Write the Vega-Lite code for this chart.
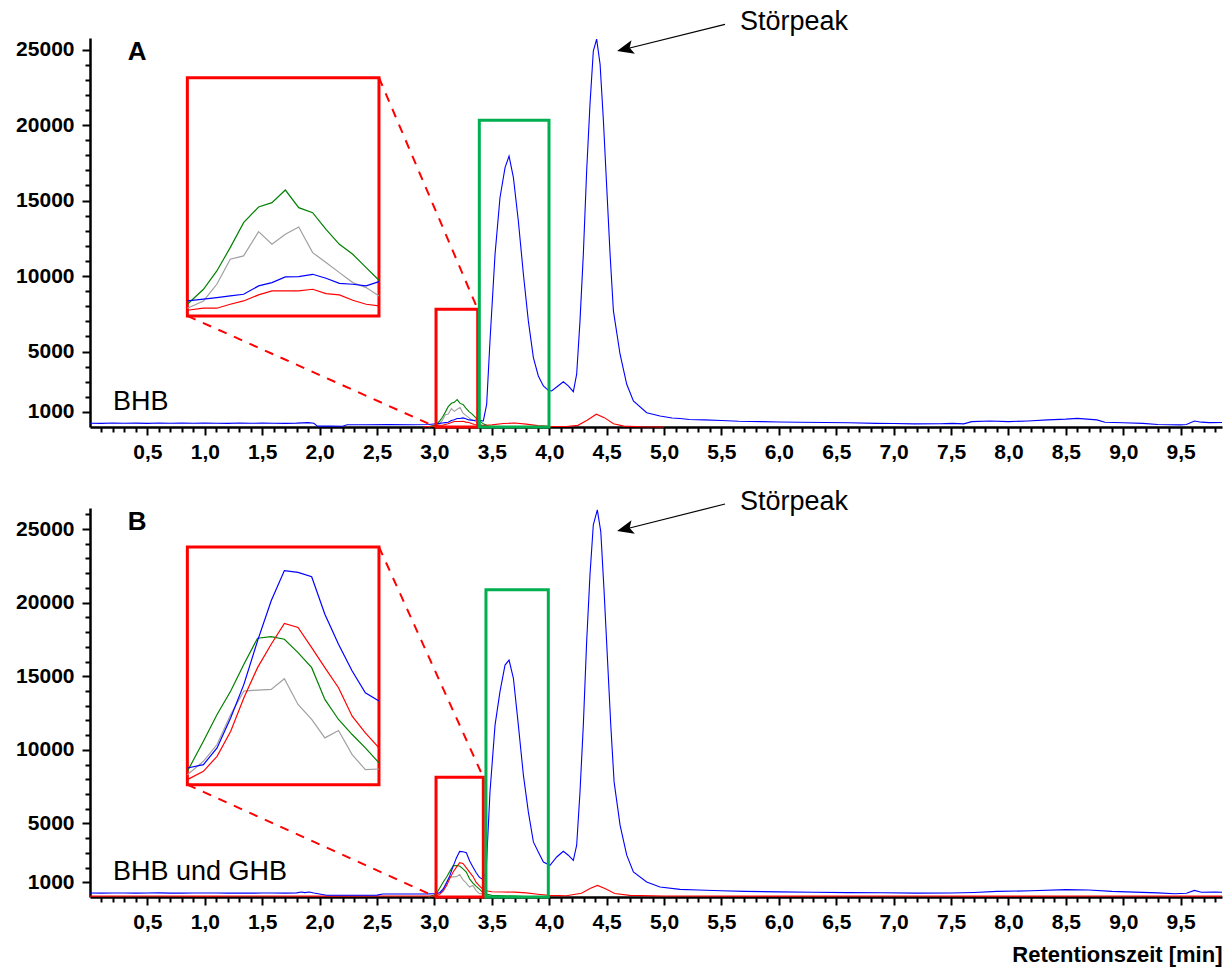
{
  "$schema": "https://vega.github.io/schema/vega-lite/v6.json",
  "padding": {"left": 15, "top": 7, "right": 5, "bottom": 5},
  "background": "white",
  "bounds": "flush",
  "spacing": 81,
  "config": {
    "view": {"stroke": null},
    "axis": {
      "grid": false,
      "domainColor": "black",
      "domainWidth": 2.5,
      "tickColor": "black",
      "tickWidth": 2,
      "labelColor": "black",
      "labelFont": "Liberation Sans",
      "labelFontWeight": "bold",
      "labelFontSize": 21,
      "labelOverlap": false,
      "labelFlush": false,
      "titleColor": "black"
    }
  },
  "datasets": {
    "a": [
      {"signal": "gray", "time": 2.95, "intensity": 0},
      {"signal": "gray", "time": 3.015, "intensity": 111},
      {"signal": "gray", "time": 3.045, "intensity": 216},
      {"signal": "gray", "time": 3.07, "intensity": 457},
      {"signal": "gray", "time": 3.095, "intensity": 818},
      {"signal": "gray", "time": 3.12, "intensity": 866},
      {"signal": "gray", "time": 3.148, "intensity": 1217},
      {"signal": "gray", "time": 3.173, "intensity": 1034},
      {"signal": "gray", "time": 3.198, "intensity": 1178},
      {"signal": "gray", "time": 3.223, "intensity": 1284},
      {"signal": "gray", "time": 3.249, "intensity": 914},
      {"signal": "gray", "time": 3.274, "intensity": 770},
      {"signal": "gray", "time": 3.299, "intensity": 625},
      {"signal": "gray", "time": 3.324, "intensity": 481},
      {"signal": "gray", "time": 3.349, "intensity": 409},
      {"signal": "gray", "time": 3.373, "intensity": 289},
      {"signal": "gray", "time": 3.4, "intensity": 190},
      {"signal": "gray", "time": 3.43, "intensity": 90},
      {"signal": "gray", "time": 3.47, "intensity": 30},
      {"signal": "gray", "time": 3.52, "intensity": 0},
      {"signal": "green", "time": 2.95, "intensity": 0},
      {"signal": "green", "time": 3.015, "intensity": 168},
      {"signal": "green", "time": 3.045, "intensity": 385},
      {"signal": "green", "time": 3.07, "intensity": 649},
      {"signal": "green", "time": 3.095, "intensity": 986},
      {"signal": "green", "time": 3.12, "intensity": 1347},
      {"signal": "green", "time": 3.148, "intensity": 1573},
      {"signal": "green", "time": 3.173, "intensity": 1635},
      {"signal": "green", "time": 3.198, "intensity": 1818},
      {"signal": "green", "time": 3.223, "intensity": 1563},
      {"signal": "green", "time": 3.249, "intensity": 1491},
      {"signal": "green", "time": 3.274, "intensity": 1251},
      {"signal": "green", "time": 3.299, "intensity": 1034},
      {"signal": "green", "time": 3.324, "intensity": 890},
      {"signal": "green", "time": 3.349, "intensity": 697},
      {"signal": "green", "time": 3.373, "intensity": 515},
      {"signal": "green", "time": 3.4, "intensity": 360},
      {"signal": "green", "time": 3.43, "intensity": 190},
      {"signal": "green", "time": 3.47, "intensity": 70},
      {"signal": "green", "time": 3.52, "intensity": 0},
      {"signal": "red", "time": 2.9, "intensity": 0},
      {"signal": "red", "time": 3.015, "intensity": 82},
      {"signal": "red", "time": 3.045, "intensity": 111},
      {"signal": "red", "time": 3.07, "intensity": 111},
      {"signal": "red", "time": 3.095, "intensity": 168},
      {"signal": "red", "time": 3.12, "intensity": 216},
      {"signal": "red", "time": 3.148, "intensity": 303},
      {"signal": "red", "time": 3.173, "intensity": 361},
      {"signal": "red", "time": 3.198, "intensity": 361},
      {"signal": "red", "time": 3.223, "intensity": 361},
      {"signal": "red", "time": 3.249, "intensity": 385},
      {"signal": "red", "time": 3.274, "intensity": 322},
      {"signal": "red", "time": 3.299, "intensity": 303},
      {"signal": "red", "time": 3.324, "intensity": 226},
      {"signal": "red", "time": 3.349, "intensity": 168},
      {"signal": "red", "time": 3.373, "intensity": 144},
      {"signal": "red", "time": 3.42, "intensity": 90},
      {"signal": "red", "time": 3.5, "intensity": 140},
      {"signal": "red", "time": 3.6, "intensity": 230},
      {"signal": "red", "time": 3.7, "intensity": 260},
      {"signal": "red", "time": 3.8, "intensity": 190},
      {"signal": "red", "time": 3.9, "intensity": 90},
      {"signal": "red", "time": 4.0, "intensity": 40},
      {"signal": "red", "time": 4.15, "intensity": 30},
      {"signal": "red", "time": 4.25, "intensity": 110},
      {"signal": "red", "time": 4.33, "intensity": 450},
      {"signal": "red", "time": 4.41, "intensity": 850},
      {"signal": "red", "time": 4.48, "intensity": 620},
      {"signal": "red", "time": 4.56, "intensity": 220},
      {"signal": "red", "time": 4.65, "intensity": 60},
      {"signal": "red", "time": 4.8, "intensity": 15},
      {"signal": "red", "time": 5.0, "intensity": 0},
      {"signal": "blue", "time": 0, "intensity": 250},
      {"signal": "blue", "time": 0.1, "intensity": 240},
      {"signal": "blue", "time": 0.2, "intensity": 265},
      {"signal": "blue", "time": 0.3, "intensity": 250},
      {"signal": "blue", "time": 0.4, "intensity": 255},
      {"signal": "blue", "time": 0.5, "intensity": 240},
      {"signal": "blue", "time": 0.6, "intensity": 265},
      {"signal": "blue", "time": 0.7, "intensity": 250},
      {"signal": "blue", "time": 0.8, "intensity": 260},
      {"signal": "blue", "time": 0.9, "intensity": 245},
      {"signal": "blue", "time": 1.0, "intensity": 265},
      {"signal": "blue", "time": 1.1, "intensity": 250},
      {"signal": "blue", "time": 1.2, "intensity": 240},
      {"signal": "blue", "time": 1.3, "intensity": 260},
      {"signal": "blue", "time": 1.4, "intensity": 250},
      {"signal": "blue", "time": 1.5, "intensity": 255},
      {"signal": "blue", "time": 1.6, "intensity": 245},
      {"signal": "blue", "time": 1.7, "intensity": 240},
      {"signal": "blue", "time": 1.8, "intensity": 255},
      {"signal": "blue", "time": 1.9, "intensity": 290},
      {"signal": "blue", "time": 1.95, "intensity": 250},
      {"signal": "blue", "time": 1.98, "intensity": 60},
      {"signal": "blue", "time": 2.1, "intensity": 60},
      {"signal": "blue", "time": 2.2, "intensity": 50},
      {"signal": "blue", "time": 2.24, "intensity": 150},
      {"signal": "blue", "time": 2.4, "intensity": 150},
      {"signal": "blue", "time": 2.6, "intensity": 160},
      {"signal": "blue", "time": 2.8, "intensity": 150},
      {"signal": "blue", "time": 2.95, "intensity": 170},
      {"signal": "blue", "time": 3.015, "intensity": 216},
      {"signal": "blue", "time": 3.045, "intensity": 241},
      {"signal": "blue", "time": 3.07, "intensity": 265},
      {"signal": "blue", "time": 3.095, "intensity": 289},
      {"signal": "blue", "time": 3.12, "intensity": 313},
      {"signal": "blue", "time": 3.148, "intensity": 433},
      {"signal": "blue", "time": 3.173, "intensity": 481},
      {"signal": "blue", "time": 3.198, "intensity": 563},
      {"signal": "blue", "time": 3.223, "intensity": 568},
      {"signal": "blue", "time": 3.249, "intensity": 601},
      {"signal": "blue", "time": 3.274, "intensity": 544},
      {"signal": "blue", "time": 3.299, "intensity": 471},
      {"signal": "blue", "time": 3.324, "intensity": 457},
      {"signal": "blue", "time": 3.349, "intensity": 433},
      {"signal": "blue", "time": 3.373, "intensity": 495},
      {"signal": "blue", "time": 3.4, "intensity": 420},
      {"signal": "blue", "time": 3.426, "intensity": 400},
      {"signal": "blue", "time": 3.455, "intensity": 1500},
      {"signal": "blue", "time": 3.484, "intensity": 5700},
      {"signal": "blue", "time": 3.528, "intensity": 11440},
      {"signal": "blue", "time": 3.571, "intensity": 15190},
      {"signal": "blue", "time": 3.615, "intensity": 17180},
      {"signal": "blue", "time": 3.65, "intensity": 17950},
      {"signal": "blue", "time": 3.688, "intensity": 16520},
      {"signal": "blue", "time": 3.731, "intensity": 13650},
      {"signal": "blue", "time": 3.775, "intensity": 10120},
      {"signal": "blue", "time": 3.818, "intensity": 7030},
      {"signal": "blue", "time": 3.862, "intensity": 4600},
      {"signal": "blue", "time": 3.905, "intensity": 3380},
      {"signal": "blue", "time": 3.949, "intensity": 2720},
      {"signal": "blue", "time": 3.992, "intensity": 2430},
      {"signal": "blue", "time": 4.021, "intensity": 2390},
      {"signal": "blue", "time": 4.065, "intensity": 2650},
      {"signal": "blue", "time": 4.123, "intensity": 3000},
      {"signal": "blue", "time": 4.166, "intensity": 2720},
      {"signal": "blue", "time": 4.21, "intensity": 2340},
      {"signal": "blue", "time": 4.239, "intensity": 3500},
      {"signal": "blue", "time": 4.268, "intensity": 7030},
      {"signal": "blue", "time": 4.297, "intensity": 11440},
      {"signal": "blue", "time": 4.326, "intensity": 16960},
      {"signal": "blue", "time": 4.355, "intensity": 21380},
      {"signal": "blue", "time": 4.384, "intensity": 24910},
      {"signal": "blue", "time": 4.413, "intensity": 25700},
      {"signal": "blue", "time": 4.443, "intensity": 24030},
      {"signal": "blue", "time": 4.472, "intensity": 20270},
      {"signal": "blue", "time": 4.501, "intensity": 15850},
      {"signal": "blue", "time": 4.53, "intensity": 11440},
      {"signal": "blue", "time": 4.559, "intensity": 7690},
      {"signal": "blue", "time": 4.617, "intensity": 4820},
      {"signal": "blue", "time": 4.675, "intensity": 2830},
      {"signal": "blue", "time": 4.733, "intensity": 1720},
      {"signal": "blue", "time": 4.849, "intensity": 950},
      {"signal": "blue", "time": 4.965, "intensity": 730},
      {"signal": "blue", "time": 5.07, "intensity": 600},
      {"signal": "blue", "time": 5.14, "intensity": 560},
      {"signal": "blue", "time": 5.22, "intensity": 500},
      {"signal": "blue", "time": 5.35, "intensity": 470},
      {"signal": "blue", "time": 5.5, "intensity": 430},
      {"signal": "blue", "time": 5.65, "intensity": 380},
      {"signal": "blue", "time": 5.85, "intensity": 355},
      {"signal": "blue", "time": 6.0, "intensity": 330},
      {"signal": "blue", "time": 6.18, "intensity": 310},
      {"signal": "blue", "time": 6.4, "intensity": 300},
      {"signal": "blue", "time": 6.61, "intensity": 285},
      {"signal": "blue", "time": 6.85, "intensity": 240},
      {"signal": "blue", "time": 7.0, "intensity": 230},
      {"signal": "blue", "time": 7.18, "intensity": 210},
      {"signal": "blue", "time": 7.4, "intensity": 220},
      {"signal": "blue", "time": 7.51, "intensity": 240},
      {"signal": "blue", "time": 7.61, "intensity": 210},
      {"signal": "blue", "time": 7.68, "intensity": 355},
      {"signal": "blue", "time": 7.84, "intensity": 400},
      {"signal": "blue", "time": 8.0, "intensity": 355},
      {"signal": "blue", "time": 8.17, "intensity": 400},
      {"signal": "blue", "time": 8.34, "intensity": 470},
      {"signal": "blue", "time": 8.5, "intensity": 520},
      {"signal": "blue", "time": 8.6, "intensity": 570},
      {"signal": "blue", "time": 8.77, "intensity": 470},
      {"signal": "blue", "time": 8.84, "intensity": 310},
      {"signal": "blue", "time": 9.0, "intensity": 285},
      {"signal": "blue", "time": 9.17, "intensity": 240},
      {"signal": "blue", "time": 9.3, "intensity": 165},
      {"signal": "blue", "time": 9.5, "intensity": 140},
      {"signal": "blue", "time": 9.55, "intensity": 170},
      {"signal": "blue", "time": 9.62, "intensity": 400},
      {"signal": "blue", "time": 9.68, "intensity": 320},
      {"signal": "blue", "time": 9.75, "intensity": 290},
      {"signal": "blue", "time": 9.86, "intensity": 300}
    ],
    "b": [
      {"signal": "gray", "time": 2.95, "intensity": 0},
      {"signal": "gray", "time": 3.014, "intensity": 145},
      {"signal": "gray", "time": 3.048, "intensity": 339},
      {"signal": "gray", "time": 3.077, "intensity": 581},
      {"signal": "gray", "time": 3.106, "intensity": 1016},
      {"signal": "gray", "time": 3.134, "intensity": 1355},
      {"signal": "gray", "time": 3.163, "intensity": 1370},
      {"signal": "gray", "time": 3.192, "intensity": 1379},
      {"signal": "gray", "time": 3.22, "intensity": 1534},
      {"signal": "gray", "time": 3.249, "intensity": 1162},
      {"signal": "gray", "time": 3.278, "intensity": 944},
      {"signal": "gray", "time": 3.306, "intensity": 678},
      {"signal": "gray", "time": 3.335, "intensity": 784},
      {"signal": "gray", "time": 3.364, "intensity": 436},
      {"signal": "gray", "time": 3.392, "intensity": 218},
      {"signal": "gray", "time": 3.421, "intensity": 227},
      {"signal": "gray", "time": 3.45, "intensity": 140},
      {"signal": "gray", "time": 3.48, "intensity": 50},
      {"signal": "gray", "time": 3.52, "intensity": 0},
      {"signal": "green", "time": 2.95, "intensity": 0},
      {"signal": "green", "time": 3.014, "intensity": 194},
      {"signal": "green", "time": 3.048, "intensity": 629},
      {"signal": "green", "time": 3.077, "intensity": 1016},
      {"signal": "green", "time": 3.106, "intensity": 1355},
      {"signal": "green", "time": 3.134, "intensity": 1742},
      {"signal": "green", "time": 3.163, "intensity": 2120},
      {"signal": "green", "time": 3.192, "intensity": 2144},
      {"signal": "green", "time": 3.22, "intensity": 2105},
      {"signal": "green", "time": 3.249, "intensity": 1912},
      {"signal": "green", "time": 3.278, "intensity": 1694},
      {"signal": "green", "time": 3.306, "intensity": 1234},
      {"signal": "green", "time": 3.335, "intensity": 944},
      {"signal": "green", "time": 3.364, "intensity": 726},
      {"signal": "green", "time": 3.392, "intensity": 532},
      {"signal": "green", "time": 3.421, "intensity": 315},
      {"signal": "green", "time": 3.45, "intensity": 200},
      {"signal": "green", "time": 3.5, "intensity": 110},
      {"signal": "green", "time": 3.6, "intensity": 90},
      {"signal": "green", "time": 3.7, "intensity": 60},
      {"signal": "green", "time": 3.8, "intensity": 30},
      {"signal": "green", "time": 3.95, "intensity": 0},
      {"signal": "red", "time": 0, "intensity": 60},
      {"signal": "red", "time": 0.5, "intensity": 70},
      {"signal": "red", "time": 1.0, "intensity": 60},
      {"signal": "red", "time": 1.5, "intensity": 70},
      {"signal": "red", "time": 2.0, "intensity": 60},
      {"signal": "red", "time": 2.5, "intensity": 70},
      {"signal": "red", "time": 2.95, "intensity": 70},
      {"signal": "red", "time": 3.014, "intensity": 73},
      {"signal": "red", "time": 3.048, "intensity": 194},
      {"signal": "red", "time": 3.077, "intensity": 411},
      {"signal": "red", "time": 3.106, "intensity": 774},
      {"signal": "red", "time": 3.134, "intensity": 1258},
      {"signal": "red", "time": 3.163, "intensity": 1694},
      {"signal": "red", "time": 3.192, "intensity": 2033},
      {"signal": "red", "time": 3.22, "intensity": 2333},
      {"signal": "red", "time": 3.249, "intensity": 2275},
      {"signal": "red", "time": 3.278, "intensity": 1984},
      {"signal": "red", "time": 3.306, "intensity": 1694},
      {"signal": "red", "time": 3.335, "intensity": 1404},
      {"signal": "red", "time": 3.364, "intensity": 992},
      {"signal": "red", "time": 3.392, "intensity": 750},
      {"signal": "red", "time": 3.421, "intensity": 532},
      {"signal": "red", "time": 3.45, "intensity": 430},
      {"signal": "red", "time": 3.5, "intensity": 360},
      {"signal": "red", "time": 3.6, "intensity": 340},
      {"signal": "red", "time": 3.7, "intensity": 330},
      {"signal": "red", "time": 3.8, "intensity": 280},
      {"signal": "red", "time": 3.9, "intensity": 190},
      {"signal": "red", "time": 4.0, "intensity": 110},
      {"signal": "red", "time": 4.15, "intensity": 90},
      {"signal": "red", "time": 4.28, "intensity": 250},
      {"signal": "red", "time": 4.36, "intensity": 600},
      {"signal": "red", "time": 4.42, "intensity": 790},
      {"signal": "red", "time": 4.49, "intensity": 560},
      {"signal": "red", "time": 4.57, "intensity": 240},
      {"signal": "red", "time": 4.7, "intensity": 110},
      {"signal": "red", "time": 5.0, "intensity": 70},
      {"signal": "red", "time": 6.0, "intensity": 60},
      {"signal": "red", "time": 7.0, "intensity": 70},
      {"signal": "red", "time": 8.0, "intensity": 60},
      {"signal": "red", "time": 9.0, "intensity": 70},
      {"signal": "red", "time": 9.86, "intensity": 60},
      {"signal": "blue", "time": 0, "intensity": 270},
      {"signal": "blue", "time": 0.1, "intensity": 260},
      {"signal": "blue", "time": 0.2, "intensity": 275},
      {"signal": "blue", "time": 0.3, "intensity": 270},
      {"signal": "blue", "time": 0.4, "intensity": 260},
      {"signal": "blue", "time": 0.5, "intensity": 270},
      {"signal": "blue", "time": 0.6, "intensity": 280},
      {"signal": "blue", "time": 0.7, "intensity": 265},
      {"signal": "blue", "time": 0.8, "intensity": 260},
      {"signal": "blue", "time": 0.9, "intensity": 270},
      {"signal": "blue", "time": 1.0, "intensity": 270},
      {"signal": "blue", "time": 1.1, "intensity": 275},
      {"signal": "blue", "time": 1.2, "intensity": 260},
      {"signal": "blue", "time": 1.3, "intensity": 270},
      {"signal": "blue", "time": 1.4, "intensity": 260},
      {"signal": "blue", "time": 1.5, "intensity": 270},
      {"signal": "blue", "time": 1.6, "intensity": 270},
      {"signal": "blue", "time": 1.7, "intensity": 260},
      {"signal": "blue", "time": 1.8, "intensity": 280},
      {"signal": "blue", "time": 1.84, "intensity": 340},
      {"signal": "blue", "time": 1.87, "intensity": 300},
      {"signal": "blue", "time": 1.91, "intensity": 340},
      {"signal": "blue", "time": 1.95, "intensity": 270},
      {"signal": "blue", "time": 2.0, "intensity": 200},
      {"signal": "blue", "time": 2.06, "intensity": 120},
      {"signal": "blue", "time": 2.3, "intensity": 120},
      {"signal": "blue", "time": 2.5, "intensity": 130},
      {"signal": "blue", "time": 2.55, "intensity": 200},
      {"signal": "blue", "time": 2.8, "intensity": 200},
      {"signal": "blue", "time": 2.95, "intensity": 215},
      {"signal": "blue", "time": 3.014, "intensity": 242},
      {"signal": "blue", "time": 3.048, "intensity": 290},
      {"signal": "blue", "time": 3.077, "intensity": 532},
      {"signal": "blue", "time": 3.106, "intensity": 968},
      {"signal": "blue", "time": 3.134, "intensity": 1452},
      {"signal": "blue", "time": 3.163, "intensity": 2081},
      {"signal": "blue", "time": 3.192, "intensity": 2662},
      {"signal": "blue", "time": 3.22, "intensity": 3098},
      {"signal": "blue", "time": 3.249, "intensity": 3073},
      {"signal": "blue", "time": 3.278, "intensity": 3010},
      {"signal": "blue", "time": 3.306, "intensity": 2468},
      {"signal": "blue", "time": 3.335, "intensity": 2033},
      {"signal": "blue", "time": 3.364, "intensity": 1646},
      {"signal": "blue", "time": 3.392, "intensity": 1331},
      {"signal": "blue", "time": 3.421, "intensity": 1210},
      {"signal": "blue", "time": 3.45, "intensity": 1700},
      {"signal": "blue", "time": 3.484, "intensity": 7140},
      {"signal": "blue", "time": 3.528, "intensity": 11680},
      {"signal": "blue", "time": 3.571, "intensity": 13950},
      {"signal": "blue", "time": 3.615, "intensity": 15760},
      {"signal": "blue", "time": 3.65, "intensity": 16100},
      {"signal": "blue", "time": 3.688, "intensity": 14860},
      {"signal": "blue", "time": 3.731, "intensity": 11680},
      {"signal": "blue", "time": 3.775, "intensity": 8280},
      {"signal": "blue", "time": 3.818, "intensity": 5780},
      {"signal": "blue", "time": 3.862, "intensity": 3740},
      {"signal": "blue", "time": 3.905, "intensity": 3060},
      {"signal": "blue", "time": 3.949, "intensity": 2380},
      {"signal": "blue", "time": 4.007, "intensity": 2150},
      {"signal": "blue", "time": 4.065, "intensity": 2720},
      {"signal": "blue", "time": 4.123, "intensity": 3110},
      {"signal": "blue", "time": 4.166, "intensity": 2840},
      {"signal": "blue", "time": 4.21, "intensity": 2490},
      {"signal": "blue", "time": 4.239, "intensity": 3520},
      {"signal": "blue", "time": 4.268, "intensity": 7140},
      {"signal": "blue", "time": 4.297, "intensity": 11680},
      {"signal": "blue", "time": 4.326, "intensity": 17350},
      {"signal": "blue", "time": 4.355, "intensity": 21890},
      {"signal": "blue", "time": 4.384, "intensity": 25290},
      {"signal": "blue", "time": 4.419, "intensity": 26300},
      {"signal": "blue", "time": 4.449, "intensity": 24830},
      {"signal": "blue", "time": 4.478, "intensity": 20750},
      {"signal": "blue", "time": 4.507, "intensity": 16220},
      {"signal": "blue", "time": 4.536, "intensity": 11680},
      {"signal": "blue", "time": 4.565, "intensity": 7820},
      {"signal": "blue", "time": 4.617, "intensity": 4880},
      {"signal": "blue", "time": 4.675, "intensity": 2840},
      {"signal": "blue", "time": 4.733, "intensity": 1700},
      {"signal": "blue", "time": 4.849, "intensity": 1020},
      {"signal": "blue", "time": 4.965, "intensity": 680},
      {"signal": "blue", "time": 5.139, "intensity": 520},
      {"signal": "blue", "time": 5.3, "intensity": 480},
      {"signal": "blue", "time": 5.5, "intensity": 420},
      {"signal": "blue", "time": 5.7, "intensity": 380},
      {"signal": "blue", "time": 6.0, "intensity": 350},
      {"signal": "blue", "time": 6.3, "intensity": 320},
      {"signal": "blue", "time": 6.6, "intensity": 300},
      {"signal": "blue", "time": 6.9, "intensity": 290},
      {"signal": "blue", "time": 7.2, "intensity": 260},
      {"signal": "blue", "time": 7.5, "intensity": 270},
      {"signal": "blue", "time": 7.7, "intensity": 310},
      {"signal": "blue", "time": 7.9, "intensity": 380},
      {"signal": "blue", "time": 8.2, "intensity": 420},
      {"signal": "blue", "time": 8.5, "intensity": 500},
      {"signal": "blue", "time": 8.7, "intensity": 480},
      {"signal": "blue", "time": 8.9, "intensity": 380},
      {"signal": "blue", "time": 9.1, "intensity": 330},
      {"signal": "blue", "time": 9.3, "intensity": 280},
      {"signal": "blue", "time": 9.45, "intensity": 220},
      {"signal": "blue", "time": 9.55, "intensity": 250},
      {"signal": "blue", "time": 9.62, "intensity": 450},
      {"signal": "blue", "time": 9.68, "intensity": 320},
      {"signal": "blue", "time": 9.8, "intensity": 330},
      {"signal": "blue", "time": 9.86, "intensity": 320}
    ]
  },
  "vconcat": [
    {
      "width": 1132,
      "height": 389,
      "layer": [
        {
          "encoding": {
            "x": {
              "field": "time", "type": "quantitative",
              "scale": {"domain": [0, 9.86], "nice": false, "zero": false},
              "axis": {
                "title": null,
                "values": [0.1,0.2,0.3,0.4,0.5,0.6,0.7,0.8,0.9,1,1.1,1.2,1.3,1.4,1.5,1.6,1.7,1.8,1.9,2,2.1,2.2,2.3,2.4,2.5,2.6,2.7,2.8,2.9,3,3.1,3.2,3.3,3.4,3.5,3.6,3.7,3.8,3.9,4,4.1,4.2,4.3,4.4,4.5,4.6,4.7,4.8,4.9,5,5.1,5.2,5.3,5.4,5.5,5.6,5.7,5.8,5.9,6,6.1,6.2,6.3,6.4,6.5,6.6,6.7,6.8,6.9,7,7.1,7.2,7.3,7.4,7.5,7.6,7.7,7.8,7.9,8,8.1,8.2,8.3,8.4,8.5,8.6,8.7,8.8,8.9,9,9.1,9.2,9.3,9.4,9.5,9.6,9.7,9.8],
                "labelExpr": "abs(datum.value * 2 - round(datum.value * 2)) < 0.001 ? replace(format(datum.value, '.1f'), '.', ',') : ''",
                "tickSize": {"condition": {"test": "abs(datum.value * 2 - round(datum.value * 2)) < 0.001", "value": 8}, "value": 5},
                "labelPadding": 6
              }
            },
            "y": {
              "field": "intensity", "type": "quantitative",
              "scale": {"domain": [0, 25770], "nice": false},
              "axis": {
                "title": null,
                "format": "d",
                "values": [1000,2000,3000,4000,5000,6000,7000,8000,9000,10000,11000,12000,13000,14000,15000,16000,17000,18000,19000,20000,21000,22000,23000,24000,25000],
                "labelExpr": "(datum.value === 1000 || datum.value % 5000 === 0) ? datum.label : ''",
                "tickSize": {"condition": {"test": "datum.value === 1000 || datum.value % 5000 === 0", "value": 8}, "value": 5},
                "labelPadding": 8
              }
            }
          },
          "layer": [
            {
              "data": {"name": "a"},
              "mark": {"type": "line", "strokeWidth": 1.1},
              "encoding": {
                "color": {"field": "signal", "type": "nominal", "scale": {"domain": ["gray", "green", "red", "blue"], "range": ["#a0a0a0", "#008000", "#ff0000", "#0000ff"]}, "legend": null}
              }
            },
            {
              "data": {"values": [
                {"box": "zoom", "time": 3.014, "time_end": 3.377, "intensity": 0, "intensity_end": 7800},
                {"box": "peak", "time": 3.391, "time_end": 3.998, "intensity": 0, "intensity_end": 20320},
                {"box": "inset", "time": 0.848, "time_end": 2.517, "intensity": 7360, "intensity_end": 23140}
              ]},
              "mark": {"type": "rect", "filled": false, "strokeWidth": 3},
              "encoding": {
                "x2": {"field": "time_end"},
                "y2": {"field": "intensity_end"},
                "stroke": {"field": "box", "type": "nominal", "scale": {"domain": ["zoom", "peak", "inset"], "range": ["#ff0000", "#00b050", "#ff0000"]}, "legend": null}
              }
            },
            {
              "data": {"values": [
                {"time": 2.517, "intensity": 23140, "time_end": 3.377, "intensity_end": 7800},
                {"time": 0.848, "intensity": 7360, "time_end": 3.014, "intensity_end": 0}
              ]},
              "mark": {"type": "rule", "color": "#ff0000", "strokeWidth": 2, "strokeDash": [9, 8]},
              "encoding": {"x2": {"field": "time_end"}, "y2": {"field": "intensity_end"}}
            },
            {
              "data": {"values": [{"label": "A", "time": 0.41, "intensity": 24840}]},
              "mark": {"type": "text", "font": "Liberation Sans", "fontWeight": "bold", "fontSize": 26, "align": "center", "baseline": "middle", "color": "black"},
              "encoding": {"text": {"field": "label"}}
            },
            {
              "data": {"values": [{"label": "BHB", "time": 0.2, "intensity": 1660}]},
              "mark": {"type": "text", "font": "Liberation Sans", "fontSize": 27, "align": "left", "baseline": "middle", "color": "black"},
              "encoding": {"text": {"field": "label"}}
            },
            {
              "data": {"values": [{"label": "Störpeak", "time": 5.662, "intensity": 26830}]},
              "mark": {"type": "text", "font": "Liberation Sans", "fontSize": 27, "align": "left", "baseline": "middle", "color": "black"},
              "encoding": {"text": {"field": "label"}}
            },
            {
              "data": {"values": [{"time": 5.531, "intensity": 26670, "time_end": 4.64, "intensity_end": 24990}]},
              "mark": {"type": "rule", "color": "black", "strokeWidth": 1.2},
              "encoding": {"x2": {"field": "time_end"}, "y2": {"field": "intensity_end"}}
            },
            {
              "data": {"values": [{"time": 4.591, "intensity": 24910}]},
              "mark": {"type": "point", "shape": "M0,0L1,-0.42L0.78,0L1,0.42Z", "size": 1100, "filled": true, "color": "black", "opacity": 1, "strokeWidth": 0, "angle": 346}
            }
          ]
        },
        {
          "data": {"name": "a"},
          "transform": [{"filter": {"field": "time", "range": [3.01, 3.38]}}],
          "mark": {"type": "line", "strokeWidth": 1.2},
          "encoding": {
            "x": {"field": "time", "type": "quantitative", "scale": {"domain": [3.015, 3.373], "range": [97.4, 289.0], "nice": false, "zero": false}, "axis": null},
            "y": {"field": "intensity", "type": "quantitative", "scale": {"domain": [0, 3440], "range": [277.9, 39.7], "nice": false}, "axis": null},
            "color": {"field": "signal", "type": "nominal", "scale": {"domain": ["gray", "green", "red", "blue"], "range": ["#a0a0a0", "#008000", "#ff0000", "#0000ff"]}, "legend": null}
          }
        }
      ],
      "resolve": {"scale": {"x": "independent", "y": "independent"}}
    },
    {
      "width": 1132,
      "height": 389,
      "layer": [
        {
          "encoding": {
            "x": {
              "field": "time", "type": "quantitative",
              "scale": {"domain": [0, 9.86], "nice": false, "zero": false},
              "axis": {
                "title": "Retentionszeit [min]",
                "titleFont": "Liberation Sans",
                "titleFontWeight": "bold",
                "titleFontSize": 22,
                "titleAnchor": "end",
                "titlePadding": 12,
                "values": [0.1,0.2,0.3,0.4,0.5,0.6,0.7,0.8,0.9,1,1.1,1.2,1.3,1.4,1.5,1.6,1.7,1.8,1.9,2,2.1,2.2,2.3,2.4,2.5,2.6,2.7,2.8,2.9,3,3.1,3.2,3.3,3.4,3.5,3.6,3.7,3.8,3.9,4,4.1,4.2,4.3,4.4,4.5,4.6,4.7,4.8,4.9,5,5.1,5.2,5.3,5.4,5.5,5.6,5.7,5.8,5.9,6,6.1,6.2,6.3,6.4,6.5,6.6,6.7,6.8,6.9,7,7.1,7.2,7.3,7.4,7.5,7.6,7.7,7.8,7.9,8,8.1,8.2,8.3,8.4,8.5,8.6,8.7,8.8,8.9,9,9.1,9.2,9.3,9.4,9.5,9.6,9.7,9.8],
                "labelExpr": "abs(datum.value * 2 - round(datum.value * 2)) < 0.001 ? replace(format(datum.value, '.1f'), '.', ',') : ''",
                "tickSize": {"condition": {"test": "abs(datum.value * 2 - round(datum.value * 2)) < 0.001", "value": 8}, "value": 5},
                "labelPadding": 6
              }
            },
            "y": {
              "field": "intensity", "type": "quantitative",
              "scale": {"domain": [0, 26430], "nice": false},
              "axis": {
                "title": null,
                "format": "d",
                "values": [1000,2000,3000,4000,5000,6000,7000,8000,9000,10000,11000,12000,13000,14000,15000,16000,17000,18000,19000,20000,21000,22000,23000,24000,25000,26000],
                "labelExpr": "(datum.value === 1000 || datum.value % 5000 === 0) ? datum.label : ''",
                "tickSize": {"condition": {"test": "datum.value === 1000 || datum.value % 5000 === 0", "value": 8}, "value": 5},
                "labelPadding": 8
              }
            }
          },
          "layer": [
            {
              "data": {"name": "b"},
              "mark": {"type": "line", "strokeWidth": 1.1},
              "encoding": {
                "color": {"field": "signal", "type": "nominal", "scale": {"domain": ["gray", "green", "red", "blue"], "range": ["#a0a0a0", "#008000", "#ff0000", "#0000ff"]}, "legend": null}
              }
            },
            {
              "data": {"values": [
                {"box": "zoom", "time": 3.014, "time_end": 3.426, "intensity": 0, "intensity_end": 8130},
                {"box": "peak", "time": 3.449, "time_end": 3.992, "intensity": 0, "intensity_end": 20870},
                {"box": "inset", "time": 0.848, "time_end": 2.517, "intensity": 7630, "intensity_end": 23780}
              ]},
              "mark": {"type": "rect", "filled": false, "strokeWidth": 3},
              "encoding": {
                "x2": {"field": "time_end"},
                "y2": {"field": "intensity_end"},
                "stroke": {"field": "box", "type": "nominal", "scale": {"domain": ["zoom", "peak", "inset"], "range": ["#ff0000", "#00b050", "#ff0000"]}, "legend": null}
              }
            },
            {
              "data": {"values": [
                {"time": 2.517, "intensity": 23780, "time_end": 3.426, "intensity_end": 8130},
                {"time": 0.848, "intensity": 7630, "time_end": 3.014, "intensity_end": 0}
              ]},
              "mark": {"type": "rule", "color": "#ff0000", "strokeWidth": 2, "strokeDash": [9, 8]},
              "encoding": {"x2": {"field": "time_end"}, "y2": {"field": "intensity_end"}}
            },
            {
              "data": {"values": [{"label": "B", "time": 0.41, "intensity": 25480}]},
              "mark": {"type": "text", "font": "Liberation Sans", "fontWeight": "bold", "fontSize": 26, "align": "center", "baseline": "middle", "color": "black"},
              "encoding": {"text": {"field": "label"}}
            },
            {
              "data": {"values": [{"label": "BHB und GHB", "time": 0.2, "intensity": 1730}]},
              "mark": {"type": "text", "font": "Liberation Sans", "fontSize": 27, "align": "left", "baseline": "middle", "color": "black"},
              "encoding": {"text": {"field": "label"}}
            },
            {
              "data": {"values": [{"label": "Störpeak", "time": 5.662, "intensity": 26840}]},
              "mark": {"type": "text", "font": "Liberation Sans", "fontSize": 27, "align": "left", "baseline": "middle", "color": "black"},
              "encoding": {"text": {"field": "label"}}
            },
            {
              "data": {"values": [{"time": 5.531, "intensity": 26700, "time_end": 4.64, "intensity_end": 24950}]},
              "mark": {"type": "rule", "color": "black", "strokeWidth": 1.2},
              "encoding": {"x2": {"field": "time_end"}, "y2": {"field": "intensity_end"}}
            },
            {
              "data": {"values": [{"time": 4.591, "intensity": 24860}]},
              "mark": {"type": "point", "shape": "M0,0L1,-0.42L0.78,0L1,0.42Z", "size": 1100, "filled": true, "color": "black", "opacity": 1, "strokeWidth": 0, "angle": 346}
            }
          ]
        },
        {
          "data": {"name": "b"},
          "transform": [{"filter": {"field": "time", "range": [3.01, 3.425]}}],
          "mark": {"type": "line", "strokeWidth": 1.2},
          "encoding": {
            "x": {"field": "time", "type": "quantitative", "scale": {"domain": [3.014, 3.421], "range": [97.4, 289.0], "nice": false, "zero": false}, "axis": null},
            "y": {"field": "intensity", "type": "quantitative", "scale": {"domain": [0, 3440], "range": [276.7, 39.0], "nice": false}, "axis": null},
            "color": {"field": "signal", "type": "nominal", "scale": {"domain": ["gray", "green", "red", "blue"], "range": ["#a0a0a0", "#008000", "#ff0000", "#0000ff"]}, "legend": null}
          }
        }
      ],
      "resolve": {"scale": {"x": "independent", "y": "independent"}}
    }
  ]
}
